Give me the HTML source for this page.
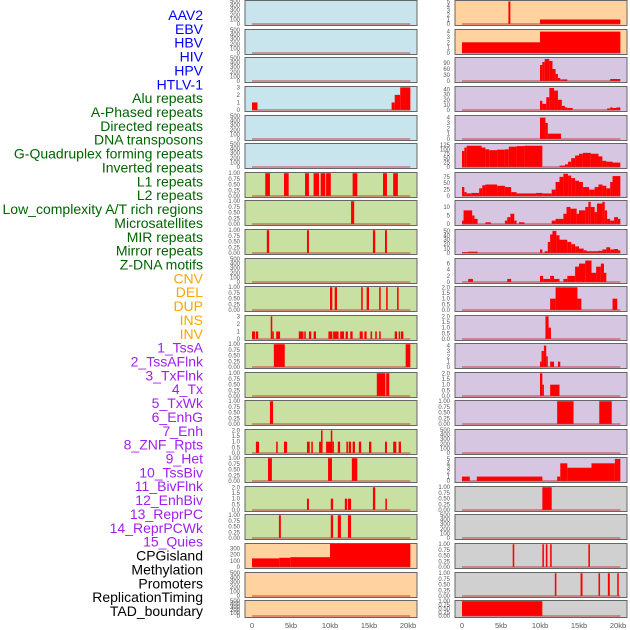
<!DOCTYPE html>
<html><head><meta charset="utf-8">
<style>
html,body{margin:0;padding:0;background:#fff;width:630px;height:630px;overflow:hidden}
svg{display:block;font-family:"Liberation Sans",sans-serif}
</style></head>
<body>
<svg id="chart" width="630" height="630" viewBox="0 0 630 630">
<g id="labels"></g>
<g id="panels"></g>
<g id="xaxis"></g>
</svg>
<script>
// ---- track label data ----
const trackNames = ["AAV2","EBV","HBV","HIV","HPV","HTLV-1","Alu repeats","A-Phased repeats","Directed repeats","DNA transposons","G-Quadruplex forming repeats","Inverted repeats","L1 repeats","L2 repeats","Low_complexity A/T rich regions","Microsatellites","MIR repeats","Mirror repeats","Z-DNA motifs","CNV","DEL","DUP","INS","INV","1_TssA","2_TssAFlnk","3_TxFlnk","4_Tx","5_TxWk","6_EnhG","7_Enh","8_ZNF_Rpts","9_Het","10_TssBiv","11_BivFlnk","12_EnhBiv","13_ReprPC","14_ReprPCWk","15_Quies","CPGisland","Methylation","Promoters","ReplicationTiming","TAD_boundary"];
const trackGroupCounts = [6,13,5,15,5];
const groupColors = ["#0000ff","#006400","#ffa500","#a020f0","#000000"];
// ---- x axis ----
const xTickValues = [0,5,10,15,20];
const xTickLabels = ["0","5kb","10kb","15kb","20kb"];
const xMaxKb = 20.3;
// ---- y tick sets ----
const T500 = [0,100,200,300,400,500];
const T1 = [0,0.25,0.5,0.75,1];
const T2 = [0,0.5,1,1.5,2];
const T3 = [0,1,2,3];
const T4 = [0,1,2,3,4];
const T5 = [0,1,2,3,4,5];
const T90 = [0,30,60,90];
const T40 = [0,10,20,30,40];
const T125 = [0,25,50,75,100,125];
const T75 = [0,25,50,75];
const T10 = [0,5,10];
const T50 = [0,10,20,30,40,50];
const T6 = [0,2,4,6];
const T300 = [0,100,200,300];
// ---- left column segment data [startKb, endKb, value] ----
const L04 = [[0,0.7,1],[17.9,18.3,1],[18.3,19,2],[19,20.3,3]];
const L07 = [[1.7,2.3,1],[4.1,4.7,1],[6.8,7.3,1],[7.9,8.6,1],[8.8,9.4,1],[9.5,10.1,1],[12.9,13.5,1],[16.8,17.3,1],[18.1,18.7,1]];
const L08 = [[12.7,13.1,1]];
const L09 = [[1.9,2.2,1],[7.05,7.3,1],[15.5,15.8,1],[17.05,17.3,1]];
const L11 = [[10.0,10.3,1],[10.6,10.9,1],[14.0,14.2,1],[14.7,15.0,1],[16.3,16.5,1],[17.2,17.4,1],[18.6,18.8,1]];
const L12 = [[0,0.4,1],[0.5,0.8,1],[2.4,2.6,3],[2.6,2.8,1],[3.1,3.6,1],[6.0,6.6,1],[6.7,6.9,1],[7.3,7.6,1],[7.9,8.2,1],[9.8,10.3,1],[10.4,11.1,1],[11.3,11.8,1],[12.0,12.3,1],[12.6,12.9,1],[13.8,14.2,1],[14.4,14.7,1],[15.2,15.4,1],[15.8,16.0,1],[16.3,16.5,1],[18.3,18.6,1],[18.8,19.0,1],[19.1,19.4,1]];
const L13 = [[2.8,4.2,1],[19.7,20.3,1]];
const L14 = [[16.0,17.1,1],[17.2,17.6,1]];
const L15 = [[2.3,2.7,1]];
const L16 = [[0.5,0.9,1],[3.1,3.3,1],[4.1,4.5,1],[7.05,7.4,1],[7.6,7.8,1],[8.6,8.85,1],[8.85,9.0,2],[9.5,10.0,1],[10.0,10.1,1],[10.1,10.3,2],[10.3,10.5,1],[11.0,11.3,1],[12.1,12.3,1],[12.4,12.7,1],[12.9,13.2,1],[13.7,14.0,1],[15.0,15.3,1],[17.05,17.3,1],[18.1,18.5,1],[18.8,19.1,1]];
const L17 = [[2.05,2.55,1],[9.75,10.25,1],[12.8,13.5,1]];
const L18 = [[7.05,7.3,1],[10.1,10.4,1],[11.9,12.2,1],[12.3,12.7,1],[15.5,15.8,2],[17.1,17.3,1]];
const L19 = [[3.45,3.7,1],[10.1,10.4,1],[11.0,11.4,1],[12.3,12.7,1]];
const L20 = [[0,3.5,140],[3.5,4.9,150],[4.9,10,160],[10,20.3,375]];
// ---- right column segment data ----
const R01 = [[5.95,6.2,5],[10,20.3,1]];
const R02 = [[0,10,2],[10,20.3,4]];
const R03 = [[10,10.3,80],[10.3,10.6,95],[10.6,11.2,110],[11.2,11.6,100],[11.6,12,60],[12,12.3,35],[12.3,12.6,15],[12.6,13.5,8],[19,20.3,10]];
const R04 = [[10,10.3,18],[10.3,10.8,12],[10.8,11.2,25],[11.2,11.8,43],[11.8,12.3,38],[12.3,12.8,20],[12.8,13.2,8],[13.2,13.5,5],[13.5,14.2,4],[18.6,19,3],[19,19.3,5],[19.3,19.8,4],[19.8,20.3,5]];
const R05 = [[10,10.7,4],[10.7,11,3],[11,12.7,1]];
const R06 = [[0,0.3,90],[0.3,0.6,110],[0.6,2.5,120],[2.5,3,110],[3,3.5,100],[3.5,4.5,95],[4.5,5.5,98],[5.5,6,100],[6,7,115],[7,8,118],[8,10.3,120],[12.5,13.2,8],[13.2,13.6,15],[13.6,14,30],[14,14.5,50],[14.5,15,65],[15,15.5,75],[15.5,16.5,80],[16.5,17.5,75],[17.5,18,60],[18,18.5,35],[18.5,19.3,30],[19.3,20.3,25]];
const R07 = [[0,0.3,35],[0.3,0.6,15],[0.6,1.2,10],[1.2,2.2,12],[2.2,2.6,30],[2.6,3,42],[3,4.5,45],[4.5,5.5,40],[5.5,6.3,35],[6.3,7,15],[7,9.5,10],[9.5,10.3,12],[10.3,11.5,10],[11.5,12,25],[12,12.5,55],[12.5,13,75],[13,13.6,87],[13.6,14,80],[14,14.5,70],[14.5,15,60],[15,15.5,55],[15.5,16.3,35],[16.3,17,25],[17,17.5,35],[17.5,18,45],[18,18.5,40],[18.5,19,30],[19,19.3,55],[19.3,20.3,78]];
const R08 = [[0,0.2,2],[0.2,1.3,8],[1.3,1.6,5],[1.6,2,3],[3,3.7,1],[5.5,5.8,2],[5.8,6.2,4],[6.2,6.7,6],[6.7,7,2],[7.3,8,1],[11.5,12,2],[12,13,3],[13,13.4,6],[13.4,13.9,10],[13.9,14.7,9],[14.7,15,6],[15,15.8,8],[15.8,16.2,10],[16.2,16.5,13],[16.5,17,10],[17,17.3,7],[17.3,18,12],[18,18.3,13],[18.3,18.6,8],[18.6,19,3],[19,19.5,2],[19.5,20,4],[20,20.3,3]];
const R09 = [[0,0.8,2],[0.8,2,3],[10,10.3,8],[10.6,11,4],[11,11.3,25],[11.3,11.6,42],[11.6,12.1,50],[12.1,12.5,40],[12.5,13.5,30],[13.5,14,25],[14,14.5,20],[14.5,15,15],[15,15.6,10],[15.6,16,6],[16,17.5,4],[17.5,18,5],[18,18.5,8],[18.5,19,13],[19,19.5,8],[19.5,20,9],[20,20.3,6]];
const R10 = [[0.8,1.4,1],[5.8,6.3,1],[10,10.4,2],[10.4,11.3,1],[11.3,11.8,2],[11.8,12.5,1],[13,13.5,1],[13.5,14.5,2],[14.5,15,5],[15,15.8,6],[15.8,16.6,7],[16.6,17.2,3],[17.2,17.8,5],[17.8,18.2,6],[18.2,18.5,3]];
const R11 = [[11.3,12,1],[12,14.8,2],[14.8,15.3,1],[19.3,19.9,1]];
const R12 = [[10.7,11.1,2],[11.1,11.4,1]];
const R13 = [[10,10.2,1],[10.2,10.5,3],[10.5,10.8,4],[10.8,11,2],[11.3,11.8,1],[12.3,12.6,1]];
const R14 = [[10,10.3,2],[10.3,10.5,1],[11.3,12.5,1]];
const R15 = [[12.2,14.3,1],[17.6,19.2,1]];
const R17 = [[0,1,1],[1.9,10.3,1],[12.2,12.6,1],[12.6,13.5,4],[13.5,16.6,3],[16.6,19.6,4],[19.6,20.3,5]];
const R18 = [[10.3,11.5,1]];
const R20 = [[6.5,6.7,1],[10.3,10.5,1],[10.75,10.95,1],[11.3,11.5,1],[16.2,16.4,1]];
const R21 = [[11.9,12.1,1],[15.2,15.45,1],[17.5,17.7,1],[18.7,18.95,1],[19.9,20.1,1]];
const R22 = [[0,10.3,1]];

const BLUE="#c8e4ec", GREEN="#c8e0a2", ORANGE="#ffd2a0", PURPLE="#d6c6e2", GREY="#d0d0d0";
const leftPanels = [
 [BLUE,T500,500,[]],[BLUE,T500,500,[]],[BLUE,T500,500,[]],[BLUE,T3,3.05,L04],[BLUE,T500,500,[]],[BLUE,T500,500,[]],
 [GREEN,T1,1.01,L07],[GREEN,T1,1.01,L08],[GREEN,T1,1.01,L09],[GREEN,T500,500,[]],[GREEN,T1,1.01,L11],[GREEN,T3,3.05,L12],
 [GREEN,T1,1.01,L13],[GREEN,T1,1.01,L14],[GREEN,T1,1.01,L15],[GREEN,T2,2.03,L16],[GREEN,T1,1.01,L17],[GREEN,T2,2.03,L18],
 [GREEN,T1,1.01,L19],[ORANGE,T300,375,L20],[ORANGE,T500,500,[]],[ORANGE,T500,500,[]]
];
const rightPanels = [
 [ORANGE,T5,5.1,R01],[ORANGE,T4,4.3,R02],[PURPLE,T90,115,R03],[PURPLE,T40,45,R04],[PURPLE,T4,4.3,R05],[PURPLE,T125,130,R06],
 [PURPLE,T75,90,R07],[PURPLE,T10,13.5,R08],[PURPLE,T50,52,R09],[PURPLE,T6,7.5,R10],[PURPLE,T2,2.03,R11],[PURPLE,T2,2.03,R12],
 [PURPLE,T4,4.3,R13],[PURPLE,T2,2.03,R14],[PURPLE,T1,1.01,R15],[PURPLE,T500,500,[]],[PURPLE,T5,5.2,R17],[GREY,T1,1.01,R18],
 [GREY,T500,500,[]],[GREY,T1,1.01,R20],[GREY,T1,1.01,R21],[GREY,T1,1.01,R22]
];
const rowTops = [0,29,57,86,115,143,172,200,229,258,286,315,343,372,400,429,457,486,514,543,572,600];

const NS="http://www.w3.org/2000/svg";
function mk(tag, attrs, parent){const e=document.createElementNS(NS,tag);for(const k in attrs)e.setAttribute(k,attrs[k]);parent.appendChild(e);return e;}

// labels
const labelsG=document.getElementById('labels');
let gi=0, gc=0;
trackNames.forEach((n,i)=>{
  while(gc>=trackGroupCounts[gi]){gi++;gc=0;}
  gc++;
  const t=mk('text',{x:203,y:15+i*13.86+5,'text-anchor':'end','font-size':'14',fill:groupColors[gi]},labelsG);
  
  
  t.textContent=n;
});

function fmtTick(v,ticks){
  const mx=ticks[ticks.length-1];
  if(mx===1) return v.toFixed(2);
  if(mx===2) return v.toFixed(1);
  return String(v);
}

const panelsG=document.getElementById('panels');
function drawPanel(cfg,row,col){
  const [bg,ticks,ymax,data]=cfg;
  const fx = col===0?245:455;
  const fw = 172;
  const top = rowTops[row];
  const h = row===21?17:25;
  const x0 = col===0?252:462;
  const xs = kb => x0 + kb*7.8;
  const ys = v => top + h - 1 - (v/ymax)*(h-2);
  const g=mk('g',{},panelsG);
  
  
  const r=mk('rect',{x:fx,y:top+0.5,width:fw,height:h,fill:bg,stroke:'#666','stroke-width':1},g);
  
  
  data.forEach(d=>{
    const y1=ys(d[2]);
    const b=mk('rect',{x:xs(d[0]),y:y1,width:Math.max(1.5,xs(d[1])-xs(d[0])),height:ys(0)-y1,fill:'#ff0000'},g);
    
    
  });
  const bl=mk('line',{x1:xs(0),x2:xs(xMaxKb),y1:ys(0),y2:ys(0),stroke:'rgba(190,50,50,0.6)','stroke-width':1.5},g);
  
  
  ticks.forEach(v=>{
    const t=mk('text',{x:fx-5,y:ys(v)+2,'text-anchor':'end','font-size':'6',fill:'#555'},g);
    
    
    t.textContent=fmtTick(v,ticks);
  });
}
leftPanels.forEach((c,i)=>drawPanel(c,i,0));
rightPanels.forEach((c,i)=>drawPanel(c,i,1));

const xg=document.getElementById('xaxis');
[252,462].forEach(x0=>{
  xTickValues.forEach((v,i)=>{
    const t=mk('text',{x:x0+v*7.8,y:628,'text-anchor':'middle','font-size':'7.5',fill:'#555'},xg);
    
    
    t.textContent=xTickLabels[i];
  });
});
</script>
</body></html>
